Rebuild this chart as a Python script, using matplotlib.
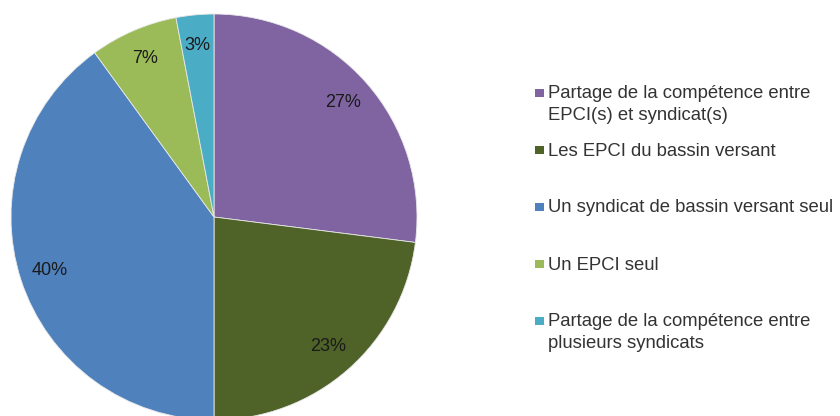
import matplotlib
matplotlib.use("Agg")
import matplotlib.pyplot as plt
from matplotlib.patches import Rectangle

labels = ["Partage de la compétence entre\nEPCI(s) et syndicat(s)",
          "Les EPCI du bassin versant",
          "Un syndicat de bassin versant seul",
          "Un EPCI seul",
          "Partage de la compétence entre\nplusieurs syndicats"]
values = [27, 23, 40, 7, 3]
colors = ["#8064A2", "#4F6228", "#4F81BD", "#9BBB59", "#4BACC6"]

plt.rcParams['font.family'] = ['Liberation Sans', 'DejaVu Sans']

fig = plt.figure(figsize=(8.4, 4.16), dpi=100)
W, H = 840, 416
cx, cy, r = 214, 217, 203
ax = fig.add_axes([(cx - r) / W, (H - cy - r) / H, 2 * r / W, 2 * r / H])
wedges, texts, autotexts = ax.pie(values, colors=colors, startangle=90, counterclock=False,
                                  radius=1, autopct=lambda p: f"{p:.0f}%", pctdistance=0.85,
                                  wedgeprops=dict(edgecolor="#e8e8e8", linewidth=0.6),
                                  textprops=dict(fontsize=13, color="#1a1a1a"))
ax.set_xlim(-1, 1)
ax.set_ylim(-1, 1)
ax.set_aspect("equal")
ax.axis("off")

ys = [93, 150, 207, 264, 321]
step = 21
for lab, col, y in zip(labels, colors, ys):
    n = lab.count("\n")
    fig.patches.append(Rectangle((535 / W, (H - y - 4) / H), 9 / W, 8 / H,
                                 transform=fig.transFigure, facecolor=col, edgecolor="none"))
    fig.text(548 / W, (H - (y + 5.5 + n * step)) / H, lab, fontsize=13.3, color="#333333",
             va="baseline", ha="left", linespacing=1.36)

fig.savefig("out.png", dpi=100)
